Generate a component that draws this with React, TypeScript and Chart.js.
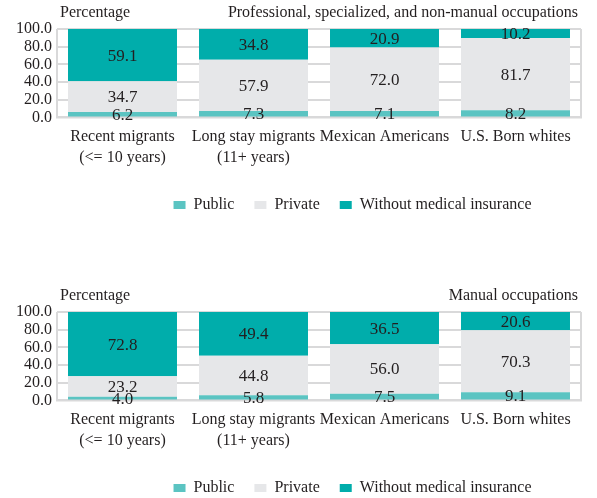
import React, { useEffect, useRef } from "react";
import { Chart, registerables } from "chart.js";

Chart.register(...registerables);

const categories: string[][] = [
  ["Recent migrants", "(<= 10 years)"],
  ["Long stay migrants", "(11+ years)"],
  ["Mexican Americans"],
  ["U.S. Born whites"],
];
const seriesNames = ["Public", "Private", "Without medical insurance"];

const profTitle = "Professional, specialized, and non-manual occupations";
const profPublic = [6.2, 7.3, 7.1, 8.2];
const profPrivate = [34.7, 57.9, 72.0, 81.7];
const profWithout = [59.1, 34.8, 20.9, 10.2];

const manualTitle = "Manual occupations";
const manualPublic = [4.0, 5.8, 7.5, 9.1];
const manualPrivate = [23.2, 44.8, 56.0, 70.3];
const manualWithout = [72.8, 49.4, 36.5, 20.6];

const yMin = 0;
const yMax = 100;
const yStep = 20;
const yAxisLabel = "Percentage";

const COLORS = ["#5bc4c2", "#e6e7e9", "#00adab"];
const GRID = "#d9d9da";
const FONT = "'Liberation Serif', 'Times New Roman', serif";
const TEXT = "#231f20";

function makeConfig(title: string, pub: number[], priv: number[], without: number[]): any {
  const headerPlugin = {
    id: "header",
    afterDraw(chart: any) {
      const { ctx, chartArea } = chart;
      ctx.save();
      ctx.font = `16px ${FONT}`;
      ctx.fillStyle = TEXT;
      ctx.textBaseline = "middle";
      ctx.textAlign = "left";
      ctx.fillText(yAxisLabel, chartArea.left + 3, 13);
      ctx.textAlign = "right";
      ctx.fillText(title, chartArea.right - 3, 13);
      ctx.restore();
    },
  };
  const framePlugin = {
    id: "frame",
    beforeDatasetsDraw(chart: any) {
      const { ctx, chartArea } = chart;
      ctx.save();
      ctx.strokeStyle = GRID;
      ctx.lineWidth = 2;
      ctx.beginPath();
      ctx.moveTo(chartArea.left, chartArea.top);
      ctx.lineTo(chartArea.left, chartArea.bottom);
      ctx.lineTo(chartArea.right, chartArea.bottom);
      ctx.lineTo(chartArea.right, chartArea.top);
      ctx.stroke();
      ctx.restore();
    },
  };
  const legendShift = {
    id: "legendShift",
    afterLayout(chart: any) {
      const lg = chart.legend;
      if (lg) {
        lg.left += 62;
        lg.right += 62;
      }
    },
  };
  const labelPlugin = {
    id: "segLabels",
    afterDatasetsDraw(chart: any) {
      const { ctx } = chart;
      ctx.save();
      ctx.font = `17px ${FONT}`;
      ctx.fillStyle = TEXT;
      ctx.textAlign = "center";
      ctx.textBaseline = "middle";
      chart.data.datasets.forEach((ds: any, di: number) => {
        const meta = chart.getDatasetMeta(di);
        meta.data.forEach((el: any, i: number) => {
          const v = ds.data[i];
          const y = (el.y + el.base) / 2;
          ctx.fillText(v.toFixed(1), el.x, y + 1);
        });
      });
      ctx.restore();
    },
  };
  return {
    type: "bar",
    data: {
      labels: categories,
      datasets: [
        { label: seriesNames[0], data: pub, backgroundColor: COLORS[0] },
        { label: seriesNames[1], data: priv, backgroundColor: COLORS[1] },
        { label: seriesNames[2], data: without, backgroundColor: COLORS[2] },
      ],
    },
    options: {
      animation: false,
      responsive: false,
      maintainAspectRatio: false,
      layout: { padding: { top: 29, right: 16, left: 0, bottom: 0 } },
      datasets: { bar: { barPercentage: 0.832, categoryPercentage: 1 } },
      scales: {
        x: {
          stacked: true,
          grid: { display: false, drawTicks: false },
          border: { display: false },
          ticks: {
            color: TEXT,
            font: { family: FONT, size: 16, lineHeight: 1.3 },
            padding: 9,
            maxRotation: 0,
            autoSkip: false,
          },
        },
        y: {
          stacked: true,
          min: yMin,
          max: yMax,
          afterFit(scale: any) {
            scale.width = 57;
          },
          grid: { color: GRID, lineWidth: 2, drawTicks: false },
          border: { display: false },
          ticks: {
            stepSize: yStep,
            autoSkip: false,
            color: TEXT,
            font: { family: FONT, size: 16 },
            padding: 5,
            callback: (v: any) => Number(v).toFixed(1),
          },
        },
      },
      plugins: {
        title: { display: false },
        tooltip: { enabled: false },
        legend: {
          display: true,
          position: "bottom",
          labels: {
            color: TEXT,
            font: { family: FONT, size: 16 },
            boxWidth: 12,
            boxHeight: 8,
            padding: 20,
          },
        },
      },
    },
    plugins: [headerPlugin, framePlugin, labelPlugin, legendShift],
  };
}

function Panel(props: { top: number; title: string; pub: number[]; priv: number[]; without: number[] }) {
  const ref = useRef<HTMLCanvasElement>(null);
  useEffect(() => {
    if (!ref.current) return;
    const chart = new Chart(ref.current, makeConfig(props.title, props.pub, props.priv, props.without));
    return () => chart.destroy();
  }, []);
  return (
    <canvas
      ref={ref}
      width={597}
      height={223}
      style={{ position: "absolute", left: 0, top: props.top, width: 597, height: 223 }}
    />
  );
}

export default function App() {
  return (
    <div style={{ position: "fixed", left: 0, top: 0, width: 597, height: 498, background: "#fff", overflow: "hidden" }}>
      <Panel top={0} title={profTitle} pub={profPublic} priv={profPrivate} without={profWithout} />
      <Panel top={283} title={manualTitle} pub={manualPublic} priv={manualPrivate} without={manualWithout} />
    </div>
  );
}
